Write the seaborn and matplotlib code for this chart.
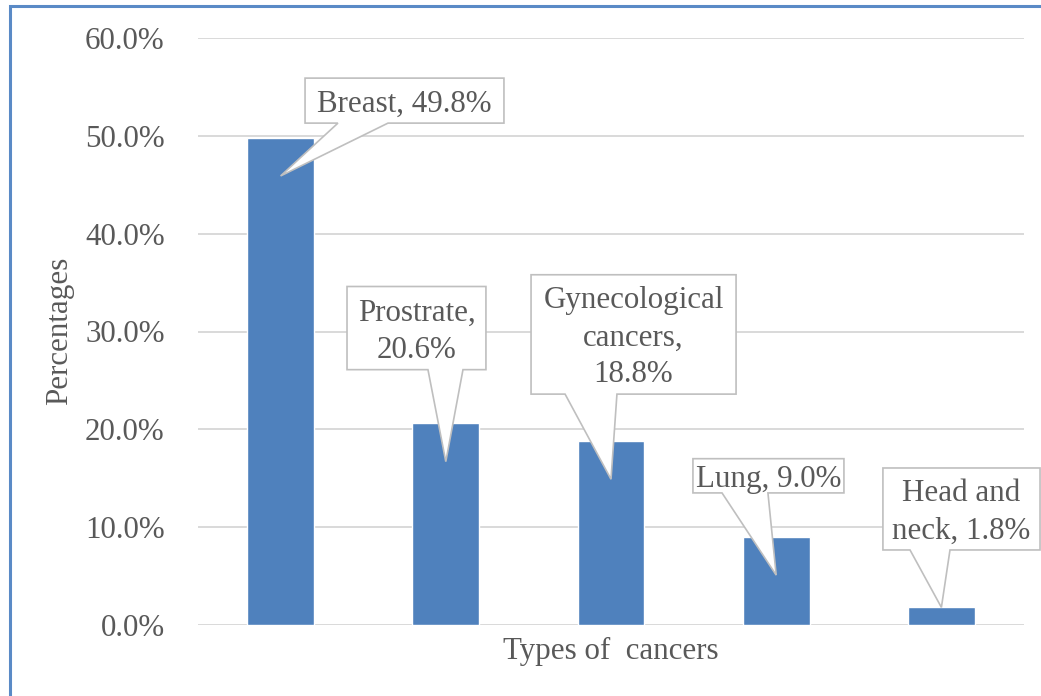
import matplotlib
matplotlib.use("Agg")
import matplotlib.pyplot as plt
import seaborn as sns
import pandas as pd
from matplotlib.patches import Polygon, Rectangle
from matplotlib.ticker import FuncFormatter

# ---- data -------------------------------------------------------------
cancer_types = ["Breast", "Prostrate", "Gynecological cancers", "Lung", "Head and neck"]
shares = [49.8, 20.6, 18.8, 9.0, 1.8]          # percent of patients
callout_templates = [
    "Breast, {}",
    "Prostrate,\n{}",
    "Gynecological\ncancers,\n{}",
    "Lung, {}",
    "Head and\nneck, {}",
]
y_ticks = [0, 10, 20, 30, 40, 50, 60]

# ---- callout layout (data coords): box l, r, top, bottom, pointer base l, r, tip drop
callout_layout = [
    (0.148, 1.352, 55.9, 51.3, 0.347, 0.650, 3.9),
    (0.402, 1.243, 34.6, 26.1, 0.892, 1.104, 3.9),
    (1.516, 2.757, 35.8, 23.6, 1.722, 2.036, 3.9),
    (2.496, 3.410, 17.0, 13.5, 2.672, 2.950, 3.9),
    (3.646, 4.597, 16.05, 7.67, 3.810, 4.052, 0.0),
]

BAR = "#4F81BD"
TEXT = "#595959"
GRID = "#D9D9D9"
BOX_EDGE = "#BFBFBF"

sns.set_theme(style="white")
plt.rcParams["font.family"] = ["Liberation Serif", "DejaVu Serif"]

W, H = 1041, 696
fig = plt.figure(figsize=(W / 100, H / 100), dpi=100, facecolor="white")
ax = fig.add_axes([198 / W, 1 - 625 / H, (1024 - 198) / W, (625 - 38) / H])

df = pd.DataFrame({"type": cancer_types, "share": shares})
sns.barplot(data=df, x="type", y="share", color=BAR, saturation=1,
            width=0.405, ax=ax, zorder=2)

ax.set_xlim(-0.5, 4.5)
ax.set_ylim(0, 60)
ax.set_yticks(y_ticks)
ax.yaxis.set_major_formatter(FuncFormatter(lambda v, _: f"{v:.1f}%"))
ax.set_xticks(range(len(cancer_types)))
ax.set_xticklabels([])
ax.tick_params(axis="both", length=0)
ax.tick_params(axis="y", pad=24, labelsize=22.3, labelcolor=TEXT)
for s in ax.spines.values():
    s.set_visible(False)
ax.set_axisbelow(True)
for t in y_ticks:
    ax.axhline(t, color=GRID, lw=1.4, zorder=0)
ax.set_xlabel("")
ax.set_ylabel("")

# axis titles
fig.text(611 / W, 1 - 659 / H, "Types of  cancers", ha="center", va="baseline",
         fontsize=22.3, color=TEXT)
fig.text(60 / W, 1 - 331 / H, "Percentages", ha="center", va="center",
         rotation=90, fontsize=22.3, color=TEXT)

# callout labels pointing into each bar
for i, (val, tmpl, lay) in enumerate(zip(shares, callout_templates, callout_layout)):
    l, r, top, bot, bl, br, drop = lay
    tip = (i, val - drop)
    verts = [(l, top), (r, top), (r, bot), (br, bot), tip, (bl, bot), (l, bot)]
    ax.add_patch(Polygon(verts, closed=True, facecolor="white", edgecolor=BOX_EDGE,
                         lw=1.2, zorder=4, clip_on=False, joinstyle="miter"))
    ax.annotate(tmpl.format(f"{val:.1f}%"), xy=((l + r) / 2, (top + bot) / 2),
                xytext=(0, -2.5), textcoords="offset points",
                ha="center", va="center", fontsize=22.3, color=TEXT,
                linespacing=1.36, zorder=5, annotation_clip=False)

# chart frame
fig.patches.append(Rectangle((10 / W, -0.1), 1.2, 1.1 - 6 / H,
                             transform=fig.transFigure, fill=False,
                             edgecolor="#5A8AC6", lw=2.2, zorder=10))

fig.savefig("out.png", dpi=100, facecolor="white")
